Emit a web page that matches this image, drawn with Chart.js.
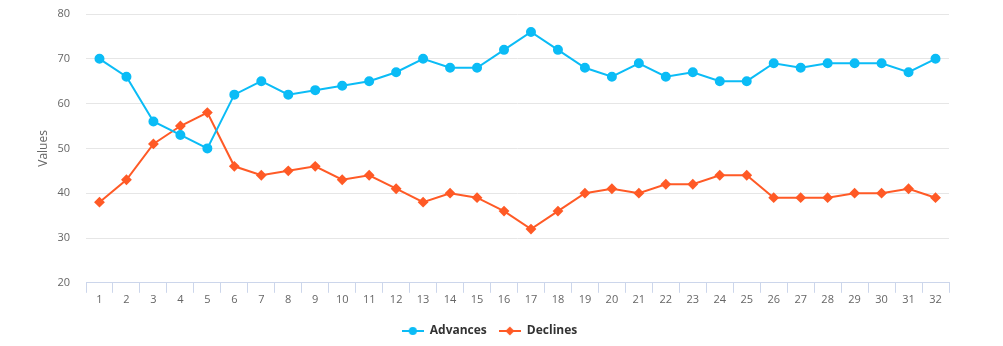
<!DOCTYPE html>
<html>
<head>
<meta charset="utf-8">
<script src="https://cdn.jsdelivr.net/npm/chart.js@4"></script>
<style>
  html, body { margin: 0; padding: 0; background: #fff; }
  #wrap { width: 1003px; height: 346px; }
</style>
</head>
<body>
<div id="wrap"><canvas id="chart" width="1003" height="346"></canvas></div>
<script>
// Données
const categories = ['1','2','3','4','5','6','7','8','9','10','11','12','13','14','15','16',
                    '17','18','19','20','21','22','23','24','25','26','27','28','29','30','31','32'];
const advances = [70, 66, 56, 53, 50, 62, 65, 62, 63, 64, 65, 67, 70, 68, 68, 72,
                  76, 72, 68, 66, 69, 66, 67, 65, 65, 69, 68, 69, 69, 69, 67, 70];
const declines = [38, 43, 51, 55, 58, 46, 44, 45, 46, 43, 44, 41, 38, 40, 39, 36,
                  32, 36, 40, 41, 40, 42, 42, 44, 44, 39, 39, 39, 40, 40, 41, 39];

const blue = '#0bbcf6';
const orange = '#ff5a26';
const font = "'Open Sans', 'DejaVu Sans', sans-serif";

// Symbole de légende : trait + marqueur
function legendIcon(color, shape) {
    const c = document.createElement('canvas');
    c.width = 22; c.height = 12;
    const g = c.getContext('2d');
    g.strokeStyle = color;
    g.lineWidth = 2;
    g.beginPath();
    g.moveTo(0, 6); g.lineTo(22, 6);
    g.stroke();
    g.fillStyle = color;
    g.beginPath();
    if (shape === 'circle') {
        g.arc(11, 6, 4, 0, Math.PI * 2);
    } else {
        g.moveTo(11, 1.5); g.lineTo(15.5, 6); g.lineTo(11, 10.5); g.lineTo(6.5, 6); g.closePath();
    }
    g.fill();
    return c;
}
const icons = [legendIcon(blue, 'circle'), legendIcon(orange, 'diamond')];

new Chart(document.getElementById('chart'), {
    type: 'line',
    data: {
        labels: categories,
        datasets: [
            {
                label: 'Advances',
                data: advances,
                borderColor: blue,
                backgroundColor: blue,
                borderWidth: 2,
                pointStyle: 'circle',
                pointRadius: 4,
                pointHoverRadius: 5,
                tension: 0
            },
            {
                label: 'Declines',
                data: declines,
                borderColor: orange,
                backgroundColor: orange,
                borderWidth: 2,
                pointStyle: 'rectRot',
                pointRadius: 4,
                pointHoverRadius: 5,
                tension: 0
            }
        ]
    },
    options: {
        responsive: false,
        animation: false,
        layout: { padding: { left: 30, right: 54, top: 14, bottom: -1 } },
        plugins: {
            tooltip: { enabled: false },
            legend: {
                position: 'bottom',
                labels: {
                    usePointStyle: true,
                    pointStyleWidth: 22,
                    padding: 12,
                    color: '#333333',
                    font: { family: font, size: 12, weight: 'bold' },
                    generateLabels(chart) {
                        return chart.data.datasets.map((ds, i) => ({
                            text: ds.label,
                            pointStyle: icons[i],
                            fillStyle: ds.borderColor,
                            strokeStyle: ds.borderColor,
                            lineWidth: 0,
                            fontColor: '#333333',
                            hidden: false,
                            datasetIndex: i
                        }));
                    }
                }
            }
        },
        scales: {
            x: {
                offset: true,
                border: { color: '#ccd6eb', width: 1 },
                grid: {
                    offset: true,
                    drawOnChartArea: false,
                    color: '#ccd6eb',
                    tickLength: 10
                },
                ticks: {
                    color: '#666666',
                    font: { family: font, size: 11 },
                    padding: 0,
                    maxRotation: 0,
                    autoSkip: false
                },
                afterFit(scale) { scale.height += 7; }
            },
            y: {
                min: 20,
                max: 80,
                border: { display: false },
                grid: {
                    color: '#e6e6e6',
                    drawTicks: true,
                    tickLength: 16,
                    tickColor: 'rgba(0,0,0,0)'
                },
                ticks: {
                    stepSize: 10,
                    color: '#666666',
                    font: { family: font, size: 11 },
                    padding: 0
                },
                title: {
                    display: true,
                    text: 'Values',
                    color: '#666666',
                    font: { family: font, size: 12 },
                    padding: { top: 6, bottom: 0 }
                },
                afterFit(scale) { scale.width = 56; }
            }
        }
    }
});
</script>
</body>
</html>
